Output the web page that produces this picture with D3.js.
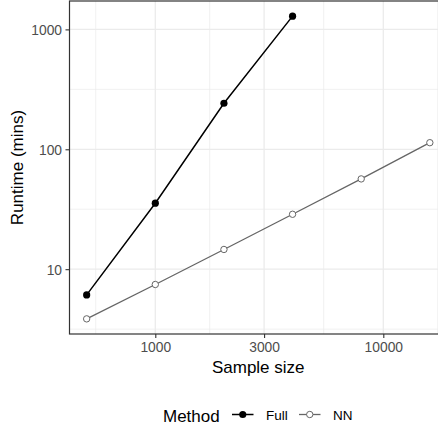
<!DOCTYPE html>
<html>
<head>
<meta charset="utf-8">
<script src="https://cdn.jsdelivr.net/npm/d3@7"></script>
<style>
html,body{margin:0;padding:0;background:#fff;overflow:hidden;}
svg{display:block;font-family:"Liberation Sans",Arial,sans-serif;}
</style>
</head>
<body>
<div id="chart"></div>
<script>
// ---- data ----
const sampleSizes = [500, 1000, 2000, 4000, 8000, 16000];
const fullSizes = [500, 1000, 2000, 4000];
const fullRuntime = [6.1, 35.5, 242, 1290];
const nnRuntime = [3.85, 7.45, 14.6, 28.7, 56.6, 113.5];
const xTicks = [1000, 3000, 10000];
const yTicks = [10, 100, 1000];
const methods = ["Full", "NN"];

const W = 438, H = 427;
const panel = {left: 69.5, top: 1, right: 447, bottom: 334};

const svg = d3.select("#chart").append("svg").attr("width", W).attr("height", H);

// log scales with 5% expansion like ggplot
function expandedLog(vals, e) {
  const lo = Math.log10(d3.min(vals)), hi = Math.log10(d3.max(vals));
  const r = hi - lo;
  return [Math.pow(10, lo - e * r), Math.pow(10, hi + e * r)];
}
const x = d3.scaleLog().domain(expandedLog(sampleSizes, 0.05)).range([panel.left, panel.right]);
const y = d3.scaleLog().domain(expandedLog(fullRuntime.concat(nnRuntime), 0.05)).range([panel.bottom, panel.top]);

const xMinor = [548, 1732, 5477, 17320].filter(v => v > x.domain()[0] && v < x.domain()[1]);
const yMinor = [3.162, 31.62, 316.2, 3162].filter(v => v > y.domain()[0] && v < y.domain()[1]);

const clip = svg.append("clipPath").attr("id", "pc").append("rect")
  .attr("x", panel.left).attr("y", panel.top)
  .attr("width", panel.right - panel.left).attr("height", panel.bottom - panel.top);

const g = svg.append("g").attr("clip-path", "url(#pc)");
g.append("rect").attr("x", panel.left).attr("y", panel.top)
  .attr("width", panel.right - panel.left).attr("height", panel.bottom - panel.top).attr("fill", "#fff");

// grid
g.selectAll(".xmin").data(xMinor).join("line")
  .attr("x1", d => x(d)).attr("x2", d => x(d)).attr("y1", panel.top).attr("y2", panel.bottom)
  .attr("stroke", "#ebebeb").attr("stroke-width", 0.7);
g.selectAll(".ymin").data(yMinor).join("line")
  .attr("y1", d => y(d)).attr("y2", d => y(d)).attr("x1", panel.left).attr("x2", panel.right)
  .attr("stroke", "#ebebeb").attr("stroke-width", 0.7);
g.selectAll(".xmaj").data(xTicks).join("line")
  .attr("x1", d => x(d)).attr("x2", d => x(d)).attr("y1", panel.top).attr("y2", panel.bottom)
  .attr("stroke", "#ebebeb").attr("stroke-width", 1.3);
g.selectAll(".ymaj").data(yTicks).join("line")
  .attr("y1", d => y(d)).attr("y2", d => y(d)).attr("x1", panel.left).attr("x2", panel.right)
  .attr("stroke", "#ebebeb").attr("stroke-width", 1.3);

// series
const fullData = fullSizes.map((s, i) => ({x: s, y: fullRuntime[i]}));
const nnData = sampleSizes.map((s, i) => ({x: s, y: nnRuntime[i]}));
const line = d3.line().x(d => x(d.x)).y(d => y(d.y));

g.append("path").datum(nnData).attr("d", line).attr("fill", "none")
  .attr("stroke", "#666666").attr("stroke-width", 1.3);
g.selectAll(".nnpt").data(nnData).join("circle")
  .attr("cx", d => x(d.x)).attr("cy", d => y(d.y)).attr("r", 3.2)
  .attr("fill", "#fff").attr("stroke", "#666666").attr("stroke-width", 1);

g.append("path").datum(fullData).attr("d", line).attr("fill", "none")
  .attr("stroke", "#000").attr("stroke-width", 1.5);
g.selectAll(".fpt").data(fullData).join("circle")
  .attr("cx", d => x(d.x)).attr("cy", d => y(d.y)).attr("r", 3.6)
  .attr("fill", "#000");

// panel border
svg.append("rect").attr("x", panel.left).attr("y", panel.top)
  .attr("width", panel.right - panel.left).attr("height", panel.bottom - panel.top)
  .attr("fill", "none").attr("stroke", "#333333").attr("stroke-width", 1.2);

// axes
const fmt = d3.format("d");
const xAxis = svg.append("g").attr("transform", `translate(0,${panel.bottom})`)
  .call(d3.axisBottom(x).tickValues(xTicks).tickFormat(fmt).tickSize(4).tickPadding(4));
const yAxis = svg.append("g").attr("transform", `translate(${panel.left},0)`)
  .call(d3.axisLeft(y).tickValues(yTicks).tickFormat(fmt).tickSize(4).tickPadding(3.5));
[xAxis, yAxis].forEach(a => {
  a.select(".domain").remove();
  a.selectAll(".tick line").attr("stroke", "#333333").attr("stroke-width", 1.1);
  a.selectAll(".tick text").attr("fill", "#4d4d4d").style("font-size", "13.8px")
    .style("font-family", "'Liberation Sans', Arial, sans-serif");
});
yAxis.selectAll(".tick text").attr("dy", "0.38em");

// axis titles
svg.append("text").attr("x", (panel.left + panel.right) / 2).attr("y", 372.5)
  .attr("text-anchor", "middle").style("font-size", "17px").attr("fill", "#000").text("Sample size");
svg.append("text").attr("transform", `translate(23,${(panel.top + panel.bottom) / 2}) rotate(-90)`)
  .attr("text-anchor", "middle").style("font-size", "17px").attr("fill", "#000").text("Runtime (mins)");

// legend
const leg = svg.append("g");
leg.append("text").attr("x", 163).attr("y", 421.5).style("font-size", "17px").attr("fill", "#000").text("Method");
const keyX = [232, 299];
const textX = [266, 333];
methods.forEach((m, i) => {
  const ky = 414.5;
  leg.append("line").attr("x1", keyX[i]).attr("x2", keyX[i] + 21.5).attr("y1", ky).attr("y2", ky)
    .attr("stroke", i === 0 ? "#000" : "#666666").attr("stroke-width", i === 0 ? 1.5 : 1.3);
  leg.append("circle").attr("cx", keyX[i] + 10.75).attr("cy", ky).attr("r", i === 0 ? 3.6 : 3.2)
    .attr("fill", i === 0 ? "#000" : "#fff").attr("stroke", i === 0 ? "none" : "#666666").attr("stroke-width", 1);
  leg.append("text").attr("x", textX[i]).attr("y", 419.5).style("font-size", "13.5px").attr("fill", "#000").text(m);
});
</script>
</body>
</html>
